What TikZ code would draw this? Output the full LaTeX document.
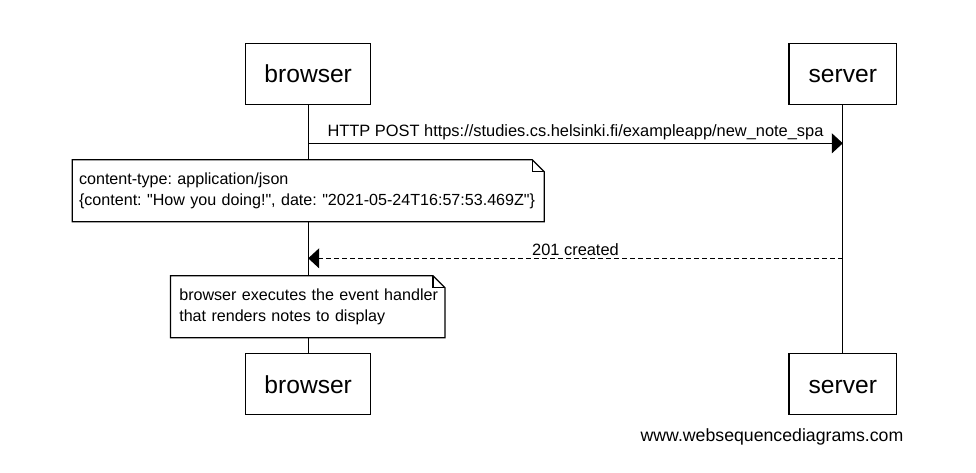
\documentclass[tikz,border=0pt]{standalone}
\usepackage{fontspec}
\setmainfont{Liberation Sans}[Ligatures=TeXOff]
\usetikzlibrary{arrows.meta}
\frenchspacing

\begin{document}
\begin{tikzpicture}[x=1pt,y=-1pt,
  actor/.style={draw,line width=1.2pt,fill=white,minimum height=61pt,
    text height=18pt,text depth=0pt,font=\fontsize{24.6}{28}\selectfont},
  note/.style={fill=white,minimum height=61.5pt,align=left,
    font=\fontsize{16.1}{20.6}\selectfont},
  fold/.style={line width=1.2pt,line join=miter},
  life/.style={line width=1pt},
  msg/.style={line width=1.1pt,-{Triangle[length=11pt,width=20pt]}},
  lbl/.style={font=\fontsize{16.4}{20}\selectfont,inner sep=2.5pt}]
  \useasboundingbox (0,0) rectangle (976,473);
  % actors, top and bottom
  \node[actor,minimum width=125pt] (b1) at (308.2,73.8) {browser};
  \node[actor,minimum width=107.7pt] (s1) at (842.8,73.8) {server};
  \node[actor,minimum width=125pt] (b2) at (308.2,384.2) {browser};
  \node[actor,minimum width=107.7pt] (s2) at (842.8,384.2) {server};
  % lifelines
  \draw[life] (b1) -- (b2);
  \draw[life] (s1) -- (s2);
  % messages
  \coordinate (m1b) at (b1 |- 0,143.3);
  \coordinate (m1s) at (s1 |- 0,143.3);
  \coordinate (m2b) at (b1 |- 0,258.3);
  \coordinate (m2s) at (s1 |- 0,258.3);
  \draw[msg] (m1b) -- (m1s)
    node[midway,above,lbl] {HTTP POST https://studies.cs.helsinki.fi/exampleapp/new\_note\_spa};
  \draw[msg,dash pattern=on 5pt off 3pt] (m2s) -- (m2b)
    node[midway,above,lbl] {201 created};
  % note 1
  \node[note,text width=458.3pt,inner xsep=6.7pt] (n1) at (308.2,190.7)
    {\mbox{content-type: application/json}\\
     \mbox{\{content: "How you doing!", date: "2021-05-24T16:57:53.469Z"\}}};
  \draw[fold] (n1.north west) -- ([xshift=-12pt]n1.north east)
    -- ([yshift=-12pt]n1.north east) -- (n1.south east) -- (n1.south west) -- cycle;
  \draw[fold] ([xshift=-12pt]n1.north east) |- ([yshift=-12pt]n1.north east);
  % note 2
  \node[note,text width=256.8pt,inner xsep=8.6pt] (n2) at (307.7,306.7)
    {\mbox{browser executes the event handler}\\
     \mbox{that renders notes to display}};
  \draw[fold] (n2.north west) -- ([xshift=-12pt]n2.north east)
    -- ([yshift=-12pt]n2.north east) -- (n2.south east) -- (n2.south west) -- cycle;
  \draw[fold] ([xshift=-12pt]n2.north east) |- ([yshift=-12pt]n2.north east);
  % footer
  \node[font=\fontsize{17.7}{20}\selectfont] (wsd) at (772,437) {www.websequencediagrams.com};
\end{tikzpicture}
\end{document}
